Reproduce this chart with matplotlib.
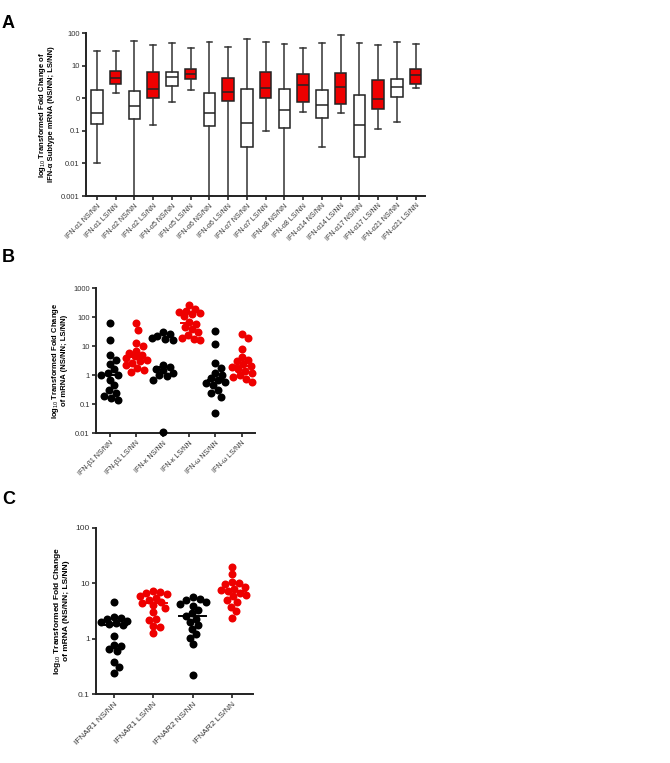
import matplotlib
matplotlib.use('Agg')
import matplotlib.pyplot as plt
import numpy as np

plt.rcParams['font.family'] = ['Liberation Sans', 'DejaVu Sans']
plt.rcParams['mathtext.fontset'] = 'custom'
plt.rcParams['mathtext.rm'] = 'Liberation Sans'

RED = '#ee0000'

# ---------------- panel A data (box summaries) ----------------
a_labels = ['IFN-α1 NS/NN', 'IFN-α1 LS/NN', 'IFN-α2 NS/NN', 'IFN-α2 LS/NN',
            'IFN-α5 NS/NN', 'IFN-α5 LS/NN', 'IFN-α6 NS/NN', 'IFN-α6 LS/NN',
            'IFN-α7 NS/NN', 'IFN-α7 LS/NN', 'IFN-α8 NS/NN', 'IFN-α8 LS/NN',
            'IFN-α14 NS/NN', 'IFN-α14 LS/NN', 'IFN-α17 NS/NN', 'IFN-α17 LS/NN',
            'IFN-α21 NS/NN', 'IFN-α21 LS/NN']
a_whislo = [0.01, 1.45, 0.001, 0.15, 0.79, 1.8, 0.001, 0.001, 0.001,
            0.098, 0.001, 0.39, 0.031, 0.36, 0.001, 0.11, 0.19, 2.0]
a_q1 = [0.16, 2.7, 0.23, 1.0, 2.3, 3.8, 0.14, 0.83, 0.031,
        1.0, 0.12, 0.78, 0.25, 0.66, 0.0155, 0.47, 1.12, 2.7]
a_med = [0.35, 4.3, 0.56, 1.95, 4.6, 5.6, 0.36, 1.55, 0.18,
         2.1, 0.43, 2.6, 0.61, 2.2, 0.15, 0.95, 2.2, 5.0]
a_q3 = [1.8, 6.9, 1.7, 6.2, 6.6, 7.8, 1.4, 4.2, 1.9,
        6.5, 1.9, 5.5, 1.8, 5.9, 1.25, 3.5, 3.9, 8.1]
a_whishi = [27.5, 29, 58, 42, 48, 35, 52, 38, 67,
            55, 46, 35, 48, 90, 48, 42, 55, 45]

# ---------------- panel B data ----------------
b_labels = ['IFN-β1 NS/NN', 'IFN-β1 LS/NN', 'IFN-κ NS/NN',
            'IFN-κ LS/NN', 'IFN-ω NS/NN', 'IFN-ω LS/NN']
b_beta_ns = [66, 17, 5, 3.5, 2.5, 1.6, 1.2, 1.0, 1.0, 0.7, 0.45, 0.3, 0.25, 0.2, 0.16, 0.14]
b_beta_ls = [65, 38, 13, 10, 7, 6, 5, 4.5, 4, 3.5, 3, 2.7, 2.2, 1.8, 1.5, 1.3]
b_kappa_ns = [30, 26, 22, 20, 18, 16, 2.2, 1.9, 1.7, 1.5, 1.2, 1.0, 0.95, 0.7, 0.011]
b_kappa_ls = [260, 190, 160, 150, 140, 130, 110, 70, 60, 45, 40, 30, 25, 20, 18, 17]
b_omega_ns = [34, 12.5, 2.6, 1.8, 1.2, 1.0, 0.8, 0.7, 0.6, 0.55, 0.45, 0.3, 0.25, 0.18, 0.05]
b_omega_ls = [27, 20, 8, 4.4, 3.5, 3, 2.5, 2.1, 2.0, 1.7, 1.4, 1.2, 1.0, 0.9, 0.75, 0.6]

# ---------------- panel C data ----------------
c_labels = ['IFNAR1 NS/NN', 'IFNAR1 LS/NN', 'IFNAR2 NS/NN', 'IFNAR2 LS/NN']
c_r1_ns = [4.5, 2.5, 2.4, 2.3, 2.1, 2.0, 1.9, 1.85, 1.8, 1.1, 0.78, 0.75, 0.65, 0.6, 0.38, 0.31, 0.24]
c_r1_ls = [7.2, 7.0, 6.8, 6.5, 6.0, 5.5, 5.0, 4.6, 4.4, 4.0, 3.6, 3.0, 2.3, 2.2, 1.7, 1.6, 1.25]
c_r2_ns = [5.6, 5.2, 4.9, 4.6, 4.3, 3.9, 3.3, 2.9, 2.6, 2.3, 2.0, 1.75, 1.5, 1.2, 1.05, 0.8, 0.22]
c_r2_ls = [20, 14.5, 10.5, 10, 9.5, 8.5, 8, 7.5, 7.2, 6.8, 6.2, 5.8, 5, 4.6, 3.8, 3.1, 2.4]


def style_axes(ax, fs):
    for s in ['top', 'right']:
        ax.spines[s].set_visible(False)
    for s in ['left', 'bottom']:
        ax.spines[s].set_linewidth(1.4)
        ax.spines[s].set_color('#222222')
    ax.tick_params(axis='both', which='major', length=3, width=1.2,
                   color='#222222', labelsize=fs, labelcolor='#333333', pad=1.5)
    ax.tick_params(axis='y', which='minor', left=False)


def swarm(ax, xc, vals, diam, maxoff, frac):
    # simple beeswarm in pixel space, allowing some overlap
    pts = ax.transData.transform(np.column_stack([np.full(len(vals), xc), vals]))
    order = np.argsort(-pts[:, 1])
    placed = []
    xs = np.zeros(len(vals))
    cands = [0.0]
    k = 1
    while k * 0.7 <= maxoff:
        cands += [k * 0.7, -k * 0.7]
        k += 1
    lim = diam * frac
    for i in order:
        px, py = pts[i]
        best, best_cost = 0.0, None
        for off in cands:
            cost = 0.0
            for qx, qy in placed:
                d = np.hypot(px + off - qx, py - qy)
                if d < lim:
                    cost += lim - d
            if cost == 0:
                best = off
                break
            if best_cost is None or cost < best_cost:
                best, best_cost = off, cost
        placed.append((px + best, py))
        xs[i] = px + best
    inv = ax.transData.inverted()
    return inv.transform(np.column_stack([xs, pts[:, 1]]))[:, 0]


def dot_panel(ax, groups, colors, diam_px, half_w, maxoff):
    for i, (vals, col) in enumerate(zip(groups, colors)):
        xc = i + 1
        xs = swarm(ax, xc, vals, diam_px, maxoff, 0.85)
        ax.plot(xs, vals, 'o', ms=diam_px * 0.72, color=col, mec='none',
                clip_on=False, zorder=3)
        m = np.median(vals)
        ax.plot([xc - half_w, xc + half_w], [m, m], color=col, lw=1.4, zorder=4)


fig = plt.figure(figsize=(6.7, 7.63), dpi=100)

# ---------------- A ----------------
axA = fig.add_axes([0.1284, 0.7431, 0.5060, 0.2136])
axA.set_yscale('log')
axA.set_ylim(0.001, 100)
axA.set_xlim(0.42, 18.5)
stats = []
for i in range(len(a_labels)):
    stats.append(dict(whislo=a_whislo[i], q1=a_q1[i], med=a_med[i],
                      q3=a_q3[i], whishi=a_whishi[i], fliers=[]))
bp = axA.bxp(stats, positions=np.arange(1, 19), widths=0.62, patch_artist=True,
             showfliers=False,
             boxprops=dict(linewidth=1.1, edgecolor='#222222'),
             medianprops=dict(color='#222222', linewidth=1.1),
             whiskerprops=dict(color='#333333', linewidth=1.1),
             capprops=dict(color='#333333', linewidth=1.1))
for j, b in enumerate(bp['boxes']):
    b.set_facecolor(RED if j % 2 else 'white')
style_axes(axA, 5.5)
axA.set_yticks([0.001, 0.01, 0.1, 1, 10, 100])
axA.set_yticklabels(['0.001', '0.01', '0.1', '0', '10', '100'])
axA.set_xticks(np.arange(1, 19))
axA.set_xticklabels(a_labels, rotation=45, ha='right', rotation_mode='anchor', fontsize=5)
axA.set_ylabel('log$_{10}$ Transformed Fold Change of\nIFN-α Subtype mRNA (NS/NN; LS/NN)',
               fontsize=5.5, fontweight='bold', labelpad=4, linespacing=1.0)

# ---------------- B ----------------
axB = fig.add_axes([0.1433, 0.4321, 0.2373, 0.1900])
axB.set_yscale('log')
axB.set_ylim(0.01, 1000)
axB.set_xlim(0.47, 6.5)
style_axes(axB, 5.5)
axB.set_yticks([0.01, 0.1, 1, 10, 100, 1000])
axB.set_yticklabels(['0.01', '0.1', '1', '10', '100', '1000'])
axB.set_xticks(np.arange(1, 7))
axB.set_xticklabels(b_labels, rotation=45, ha='right', rotation_mode='anchor', fontsize=5)
dot_panel(axB, [b_beta_ns, b_beta_ls, b_kappa_ns, b_kappa_ls, b_omega_ns, b_omega_ls],
          ['black', RED] * 3, 8, 0.29, 11)
axB.set_ylabel('log$_{10}$ Transformed Fold Change\nof mRNA (NS/NN; LS/NN)',
               fontsize=5.5, fontweight='bold', labelpad=4, linespacing=1.0)

# ---------------- C ----------------
axC = fig.add_axes([0.1433, 0.0900, 0.2343, 0.2184])
axC.set_yscale('log')
axC.set_ylim(0.1, 100)
axC.set_xlim(0.54, 4.53)
style_axes(axC, 6)
axC.set_yticks([0.1, 1, 10, 100])
axC.set_yticklabels(['0.1', '1', '10', '100'])
axC.set_xticks(np.arange(1, 5))
axC.set_xticklabels(c_labels, rotation=45, ha='right', rotation_mode='anchor', fontsize=6)
dot_panel(axC, [c_r1_ns, c_r1_ls, c_r2_ns, c_r2_ls], ['black', RED] * 2, 8, 0.34, 14)
axC.set_ylabel('log$_{10}$ Transformed Fold Change\nof mRNA (NS/NN; LS/NN)',
               fontsize=6, fontweight='bold', labelpad=4, linespacing=1.0)

# panel letters
fig.text(0.003, 1 - 23 / 763, 'A', fontsize=13, fontweight='bold', va='center')
fig.text(0.003, 1 - 257 / 763, 'B', fontsize=13, fontweight='bold', va='center')
fig.text(0.003, 1 - 499 / 763, 'C', fontsize=13, fontweight='bold', va='center')

fig.savefig('out.png', dpi=100)
